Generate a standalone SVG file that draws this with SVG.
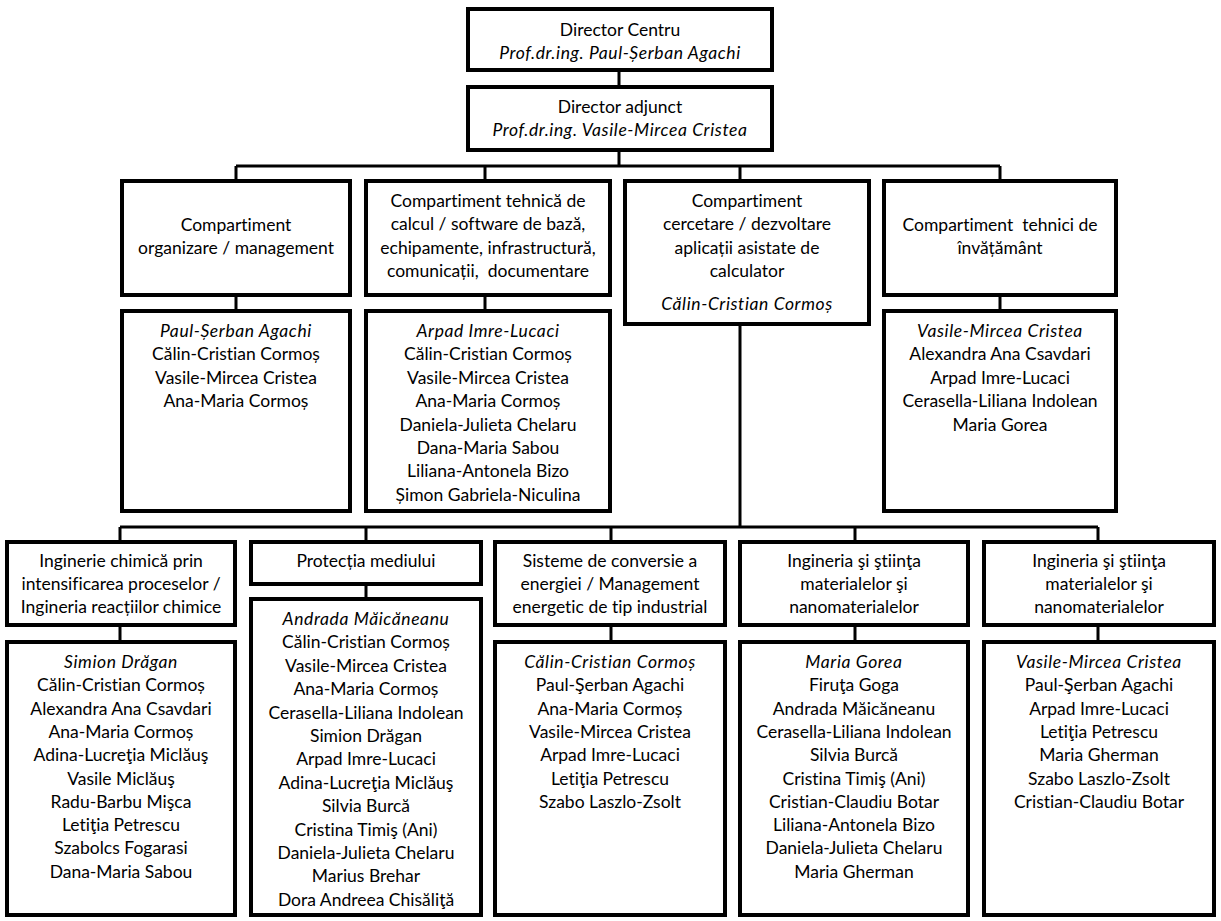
<svg xmlns="http://www.w3.org/2000/svg" width="1221" height="921" viewBox="0 0 1221 921">
<style>
  .box { fill: #fff; stroke: #000; stroke-width: 4; }
  .conn { fill: none; stroke: #000; stroke-width: 3; }
  text { font-family: Lato, "Open Sans", "DejaVu Sans", sans-serif; font-size: 17.5px; fill: #000; text-anchor: middle; font-variant-ligatures: none; }
  .it { font-style: italic; letter-spacing: 0.6px; }
</style>
<rect x="0" y="0" width="1221" height="921" fill="#fff"/>
<g id="connectors">
  <path class="conn" d="M619,72 V86 M619,152 V166 M236,166 H1000 M236,166 V180 M485,166 V180 M740,166 V180 M1000,166 V180"/>
  <path class="conn" d="M236,296 V310 M485,296 V310 M1000,296 V310 M740,325 V527"/>
  <path class="conn" d="M120,527 H1098 M120,527 V541 M366,527 V541 M611,527 V541 M855,527 V541 M1098,527 V541"/>
  <path class="conn" d="M120,626 V641 M366,585 V598 M611,626 V641 M855,626 V641 M1098,626 V641"/>
</g>
<g id="director-centru">
  <rect class="box" x="468" y="9" width="304" height="61"/>
  <text x="620" y="36">Director Centru</text>
  <text class="it" x="620" y="59">Prof.dr.ing. Paul-Șerban Agachi</text>
</g>
<g id="director-adjunct">
  <rect class="box" x="468" y="87" width="304" height="63"/>
  <text x="620" y="113">Director adjunct</text>
  <text class="it" x="620" y="136">Prof.dr.ing. Vasile-Mircea Cristea</text>
</g>
<g id="comp-organizare">
  <rect class="box" x="122" y="181" width="228" height="114"/>
  <text x="236" y="231">Compartiment</text>
  <text x="236" y="254">organizare / management</text>
</g>
<g id="comp-organizare-membri">
  <rect class="box" x="122" y="311" width="228" height="200"/>
  <text x="236" y="337"><tspan class="it">Paul-Șerban Agachi</tspan><tspan x="236" dy="23.4">Călin-Cristian Cormoș</tspan><tspan x="236" dy="23.4">Vasile-Mircea Cristea</tspan><tspan x="236" dy="23.4">Ana-Maria Cormoș</tspan></text>
</g>
<g id="comp-tehnica">
  <rect class="box" x="366" y="181" width="244" height="114"/>
  <text x="488" y="207">Compartiment tehnică de<tspan x="488" dy="23.4">calcul / software de bază,</tspan><tspan x="488" dy="23.4">echipamente, infrastructură,</tspan><tspan x="488" dy="23.4">comunicații,&#160; documentare</tspan></text>
</g>
<g id="comp-tehnica-membri">
  <rect class="box" x="366" y="311" width="244" height="200"/>
  <text x="488" y="337"><tspan class="it">Arpad Imre-Lucaci</tspan><tspan x="488" dy="23.4">Călin-Cristian Cormoș</tspan><tspan x="488" dy="23.4">Vasile-Mircea Cristea</tspan><tspan x="488" dy="23.4">Ana-Maria Cormoș</tspan><tspan x="488" dy="23.4">Daniela-Julieta Chelaru</tspan><tspan x="488" dy="23.4">Dana-Maria Sabou</tspan><tspan x="488" dy="23.4">Liliana-Antonela Bizo</tspan><tspan x="488" dy="23.4">Șimon Gabriela-Niculina</tspan></text>
</g>
<g id="comp-cercetare">
  <rect class="box" x="625" y="181" width="244" height="143"/>
  <text x="747" y="207">Compartiment<tspan x="747" dy="23.4">cercetare / dezvoltare</tspan><tspan x="747" dy="23.4">aplicații asistate de</tspan><tspan x="747" dy="23.4">calculator</tspan></text>
  <text class="it" x="747" y="310">Călin-Cristian Cormoș</text>
</g>
<g id="comp-invatamant">
  <rect class="box" x="884" y="181" width="232" height="114"/>
  <text x="1000" y="231">Compartiment&#160; tehnici de</text>
  <text x="1000" y="254">învățământ</text>
</g>
<g id="comp-invatamant-membri">
  <rect class="box" x="884" y="311" width="232" height="200"/>
  <text x="1000" y="337"><tspan class="it">Vasile-Mircea Cristea</tspan><tspan x="1000" dy="23.4">Alexandra Ana Csavdari</tspan><tspan x="1000" dy="23.4">Arpad Imre-Lucaci</tspan><tspan x="1000" dy="23.4">Cerasella-Liliana Indolean</tspan><tspan x="1000" dy="23.4">Maria Gorea</tspan></text>
</g>
<g id="inginerie-chimica">
  <rect class="box" x="7" y="542" width="228" height="83"/>
  <text x="121" y="567">Inginerie chimică prin<tspan x="121" dy="23">intensificarea proceselor /</tspan><tspan x="121" dy="23">Ingineria reacțiilor chimice</tspan></text>
</g>
<g id="inginerie-chimica-membri">
  <rect class="box" x="7" y="642" width="228" height="273"/>
  <text x="121" y="668"><tspan class="it">Simion Drăgan</tspan><tspan x="121" dy="23.3">Călin-Cristian Cormoș</tspan><tspan x="121" dy="23.3">Alexandra Ana Csavdari</tspan><tspan x="121" dy="23.3">Ana-Maria Cormoș</tspan><tspan x="121" dy="23.3">Adina-Lucreţia Miclăuş</tspan><tspan x="121" dy="23.3">Vasile Miclăuş</tspan><tspan x="121" dy="23.3">Radu-Barbu Mişca</tspan><tspan x="121" dy="23.3">Letiţia Petrescu</tspan><tspan x="121" dy="23.3">Szabolcs Fogarasi</tspan><tspan x="121" dy="23.3">Dana-Maria Sabou</tspan></text>
</g>
<g id="protectia-mediului">
  <rect class="box" x="251" y="542" width="230" height="42"/>
  <text x="366" y="567">Protecția mediului</text>
</g>
<g id="protectia-mediului-membri">
  <rect class="box" x="251" y="599" width="230" height="316"/>
  <text x="366" y="625"><tspan class="it">Andrada Măicăneanu</tspan><tspan x="366" dy="23.4">Călin-Cristian Cormoș</tspan><tspan x="366" dy="23.4">Vasile-Mircea Cristea</tspan><tspan x="366" dy="23.4">Ana-Maria Cormoș</tspan><tspan x="366" dy="23.4">Cerasella-Liliana Indolean</tspan><tspan x="366" dy="23.4">Simion Drăgan</tspan><tspan x="366" dy="23.4">Arpad Imre-Lucaci</tspan><tspan x="366" dy="23.4">Adina-Lucreţia Miclăuş</tspan><tspan x="366" dy="23.4">Silvia Burcă</tspan><tspan x="366" dy="23.4">Cristina Timiş (Ani)</tspan><tspan x="366" dy="23.4">Daniela-Julieta Chelaru</tspan><tspan x="366" dy="23.4">Marius Brehar</tspan><tspan x="366" dy="23.4">Dora Andreea Chisăliţă</tspan></text>
</g>
<g id="sisteme-conversie">
  <rect class="box" x="495" y="542" width="230" height="83"/>
  <text x="610" y="567">Sisteme de conversie a<tspan x="610" dy="23">energiei / Management</tspan><tspan x="610" dy="23">energetic de tip industrial</tspan></text>
</g>
<g id="sisteme-conversie-membri">
  <rect class="box" x="495" y="642" width="230" height="273"/>
  <text x="610" y="668"><tspan class="it">Călin-Cristian Cormoș</tspan><tspan x="610" dy="23.3">Paul-Şerban Agachi</tspan><tspan x="610" dy="23.3">Ana-Maria Cormoș</tspan><tspan x="610" dy="23.3">Vasile-Mircea Cristea</tspan><tspan x="610" dy="23.3">Arpad Imre-Lucaci</tspan><tspan x="610" dy="23.3">Letiţia Petrescu</tspan><tspan x="610" dy="23.3">Szabo Laszlo-Zsolt</tspan></text>
</g>
<g id="materiale-1">
  <rect class="box" x="740" y="542" width="228" height="83"/>
  <text x="854" y="567">Ingineria şi ştiinţa<tspan x="854" dy="23">materialelor şi</tspan><tspan x="854" dy="23">nanomaterialelor</tspan></text>
</g>
<g id="materiale-1-membri">
  <rect class="box" x="740" y="642" width="228" height="273"/>
  <text x="854" y="668"><tspan class="it">Maria Gorea</tspan><tspan x="854" dy="23.3">Firuţa Goga</tspan><tspan x="854" dy="23.3">Andrada Măicăneanu</tspan><tspan x="854" dy="23.3">Cerasella-Liliana Indolean</tspan><tspan x="854" dy="23.3">Silvia Burcă</tspan><tspan x="854" dy="23.3">Cristina Timiş (Ani)</tspan><tspan x="854" dy="23.3">Cristian-Claudiu Botar</tspan><tspan x="854" dy="23.3">Liliana-Antonela Bizo</tspan><tspan x="854" dy="23.3">Daniela-Julieta Chelaru</tspan><tspan x="854" dy="23.3">Maria Gherman</tspan></text>
</g>
<g id="materiale-2">
  <rect class="box" x="984" y="542" width="230" height="83"/>
  <text x="1099" y="567">Ingineria şi ştiinţa<tspan x="1099" dy="23">materialelor şi</tspan><tspan x="1099" dy="23">nanomaterialelor</tspan></text>
</g>
<g id="materiale-2-membri">
  <rect class="box" x="984" y="642" width="230" height="273"/>
  <text x="1099" y="668"><tspan class="it">Vasile-Mircea Cristea</tspan><tspan x="1099" dy="23.3">Paul-Şerban Agachi</tspan><tspan x="1099" dy="23.3">Arpad Imre-Lucaci</tspan><tspan x="1099" dy="23.3">Letiţia Petrescu</tspan><tspan x="1099" dy="23.3">Maria Gherman</tspan><tspan x="1099" dy="23.3">Szabo Laszlo-Zsolt</tspan><tspan x="1099" dy="23.3">Cristian-Claudiu Botar</tspan></text>
</g>
</svg>
